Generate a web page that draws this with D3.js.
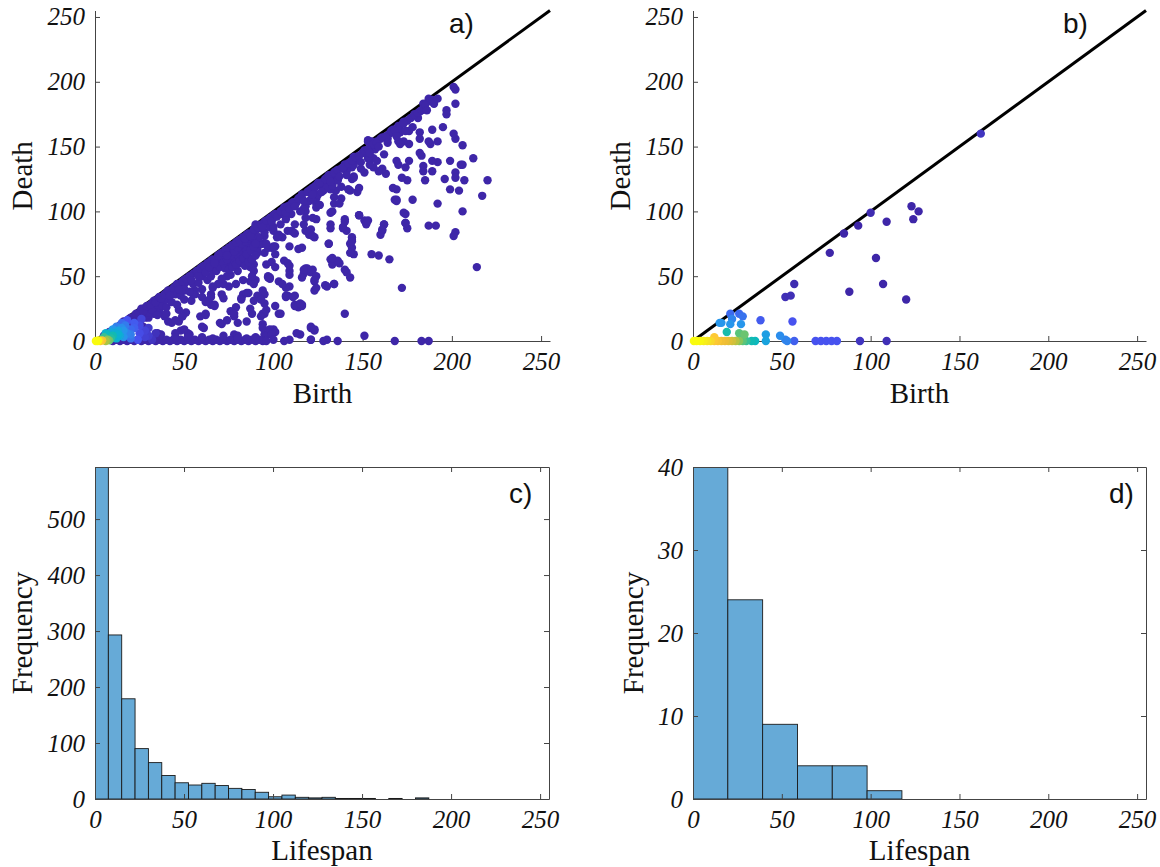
<!DOCTYPE html>
<html>
<head>
<meta charset="utf-8">
<script src="https://cdn.jsdelivr.net/npm/d3@7"></script>
<style>
body{margin:0;background:#fff}
svg{display:block}
.tick text{font-family:"Liberation Serif",serif;font-style:italic;font-size:25px;fill:#111}
.lab{font-family:"Liberation Serif",serif;font-size:29px;fill:#111}
.tag{font-family:"Liberation Sans",Arial,sans-serif;font-size:28px;fill:#111}
</style>
</head>
<body>
<script>
// shared axis setup
var tickVals = [0,50,100,150,200,250];
var axisLimit = 255;
var diagonal = [[0,0],[255,255]];

// panel a: birth/death pairs (dark blue ones)
var pointsA = [
[220,124],[217,112],[214,57],[212,141],[206,151],[207,124],[206,136],[205,136],[206,100],[204,116],[202,130],[202,126],
[202,156],[201,160],[202,183],[202,194],[201,196],[199,139],[199,117],[202,84],[201,81],[196,125],[197,178],[197,175],
[195,165],[192,106],[191,89],[187,89],[192,154],[192,138],[189,131],[189,139],[189,163],[190,185],[187,187],[184,183],
[188,152],[187,154],[185,124],[184,131],[184,135],[183,143],[182,161],[182,156],[181,172],[182,145],[178,109],[176,152],
[176,162],[176,139],[175,87],[174,91],[174,98],[175,124],[173,169],[173,154],[174,134],[172,41],[171,161],[170,154],
[171,152],[169,139],[170,136],[169,117],[169,108],[168,109],[167,163],[166,161],[165,63],[162,90],[161,85],[160,82],
[162,144],[159,66],[163,129],[161,133],[159,131],[156,134],[154,136],[155,67],[151,93],[148,97],[152,90],[155,152],
[157,148],[153,155],[158,154],[156,141],[153,141],[158,139],[151,130],[149,133],[147,115],[151,4],[144,134],[145,142],
[144,125],[145,127],[142,117],[143,116],[140,136],[141,131],[139,133],[144,78],[144,72],[145,67],[143,49],[141,53],
[140,94],[139,87],[141,85],[140,21],[137,60],[136,0],[134,111],[135,116],[134,125],[136,124],[133,100],[134,106],
[132,63],[133,59],[134,44],[130,42],[131,75],[132,87],[131,128],[130,122],[128,118],[130,1],[128,0],[127,120],
[125,122],[123,118],[121,114],[124,110],[124,94],[124,106],[124,103],[123,80],[123,46],[123,39],[121,53],[123,8],
[121,10],[118,56],[119,54],[117,52],[116,49],[121,1],[120,82],[118,85],[116,72],[117,102],[118,100],[115,5],
[116,27],[114,26],[112,28],[112,35],[108,35],[109,58],[109,51],[109,42],[110,85],[111,84],[112,83],[109,1],
[106,0],[107,41],[105,80],[103,82],[100,85],[101,73],[99,72],[101,67],[101,57],[103,21],[101,27],[100,9],
[99,8],[98,49],[97,49],[96,59],[95,5],[96,5],[96,24],[95,21],[94,13],[94,39],[95,36],[94,0],
[95,68],[94,75],[91,71],[95,81],[92,87],[90,90],[89,59],[87,57],[89,54],[87,46],[89,44],[91,35],
[89,31],[85,15],[83,36],[82,33],[79,26],[78,5],[80,4],[84,63],[79,64],[80,66],[77,62],[80,54],
[76,51],[75,42],[76,23],[78,19],[71,36],[72,33],[69,44],[71,13],[67,28],[66,41],[65,36],[63,31],
[62,21],[61,10],[59,19],[56,36],[54,31],[53,5],[52,6],[51,22],[49,19],[47,15],[48,8],[45,6],
[41,15],[39,19],[37,5],[35,6],[36,23],[33,26],
[143,68],[144,80],[143,75],[131,75],[136,62],[133,64],[140,55],[129,43],[134,44],[124,41],[121,11],[123,9],
[122,55],[119,56],[117,55],[124,50],[123,47],[116,28],[112,27],[115,29],[107,35],[107,34],[111,34],[104,21],
[94,21],[95,29],[93,32],[90,47],[88,50],[97,50],[98,48],[103,46],[105,44],[108,60],[109,54],[117,90],
[121,86],[122,81],[109,73],[114,71],[122,95],[132,90],[132,99],[139,88],[140,92],[144,77],[148,97],[153,93],
[162,90],[161,86],[132,117],[138,119],[142,117],[138,110],[137,106],[148,118],[167,118],[169,109],[173,99],[174,91],
[88,21],[93,19],[94,10],[98,9],[101,7],[99,5],[113,6],[93,75],[97,72],[100,73],[99,61],[106,62],
[91,79],[88,83],[107,96],[104,98],[98,93],[173,169],[169,163],[164,156],[153,154],[155,154],[145,126],[172,126],
[62,20],[70,14],[60,11],[78,21],[80,14],[74,16],[65,28],[67,27],[50,9],[43,14],[40,21],[82,32],
[85,37],[87,25],[79,44],[83,47],[86,37],[72,44],[74,50],[71,63],[74,57],[77,59],[84,65],[66,55],
[64,57],[62,54],[60,34],[62,30],[65,34],[47,24],[49,19],[45,16],[56,39],[55,36],[50,39],[50,44],
[40,34],[43,36],[36,29],[33,21],[30,18],[24,15],[27,11],[21,11],[17,10],
[20,18],[25,22],[30,27],[35,32],[40,37],[45,42],[50,47],[55,52],[60,57],[65,62],[70,67],[75,72],
[80,77],[85,82],[90,87],[95,92],[100,97],[105,101],[110,106],[115,111],[120,116],[125,121],[130,126],[135,131],
[140,136],[145,140],[150,145],[155,150],[160,156],[165,160],[170,166],[175,170],[182,177],[188,185],
[5,4],[8,5],[8,7],[10,8],[12,10],[12,7],[15,12],[15,9],[18,15],[18,11],[20,14],[22,19],
[22,15],[25,19],[25,14],[28,24],[28,18],[30,22],[32,29],[32,24],[35,28],[35,20],[38,34],[38,27],
[40,32],[40,26],[42,38],[43,30],[45,36],[46,28],[48,43],[48,35],[50,40],[50,32],[52,46],[53,38],
[55,44],[58,53],[58,45],[60,50],[60,40],[62,56],[63,47],[65,58],[65,50],[66,42],[68,62],[68,54],
[70,64],[70,57],[71,48],[72,67],[73,60],[74,70],[75,65],[75,58],[76,72],[77,68],[78,62],[78,73],
[79,70],[80,75],[80,66],[81,60],[82,78],[82,72],[83,68],[84,74],[85,80],[85,70],[86,65],[87,76],
[88,82],[88,72],[90,85],[90,78],[91,68],[92,88],[92,80],[94,90],[95,84],[96,75],[97,93],[98,88],
[100,95],[100,88],[102,80],[103,98],[104,90],[106,101],[107,94],[108,85],[110,105],[110,98],[112,90],[113,107],
[115,100],[116,110],[118,104],[118,95],[120,115],[120,108],[122,118],[122,110],[124,120],[125,113],[126,105],[128,123],
[128,116],[130,126],[130,118],[132,128],[133,120],[135,130],[136,124],[138,133],[140,135],[141,128],[143,138],[145,136],
[147,141],[150,145],
[72,60],[74,63],[76,66],[78,69],[80,72],[82,75],[84,77],[86,79],[88,80],[73,56],[75,55],[77,57],
[79,59],[81,62],[83,64],[85,67],[87,70],[89,73],[90,75],[84,58],[86,61],[88,63],[90,66],
[14,12],[16,15],[19,17],[23,21],[26,25],[27,23],[29,27],[31,28],[33,31],[34,30],[36,34],[37,33],
[39,36],[41,39],[42,35],[44,41],[46,44],[47,40],[49,46],[51,48],[53,50],[54,47],[57,54],[58,50],
[59,56],[61,58],[62,53],[63,60],[64,57],[66,63],[67,60],[69,66],[71,68],[73,70],[74,66],[77,74],
[79,76],[81,78],[83,80],[84,79],[86,83],[87,81],[89,86],[91,88],[93,90],[94,88],[96,93],[98,95],
[99,92],[101,98],[102,96],[104,100],[106,103],[107,99],[108,104],[109,102],[111,107],[112,104],[114,110],[116,113],
[117,108],[119,115],[121,117],[122,113],[123,119],[126,122],[127,115],[129,125],[131,127],[132,123],[134,130],[136,132],
[137,127],[139,134],[142,137],[144,139],[146,142],[148,143],[149,138],[151,147],[153,148],[154,145],[156,152],[158,153],
[159,150],[161,157],[163,158],[164,153],[166,162],[168,163],[169,158],[171,166],[173,168],[174,162],[177,172],[178,165],
[179,175],[181,176],[183,178],[185,182],[186,178],[189,186],[190,183],[192,187],
[10,0],[12,1],[14,0],[16,1],[18,0],[20,1],[22,0],[24,1],[26,0],[28,1],[30,0],[32,1],
[34,0],[36,1],[38,0],[40,1],[42,0],[44,1],[46,0],[48,1],[50,0],[52,1],[54,0],[56,1],
[58,0],[60,1],[62,0],[64,1],[66,0],[68,1],[70,0],[72,1],[74,0],[76,1],[78,0],[80,1],
[82,0],[84,1],[86,0],[88,1],[90,0],[92,1],[96,0],[100,1],[121,1],[168,0],[183,0],[187,0],
[30,3],[36,4],[45,3],[52,3],[60,3],[66,2],[72,4],[80,2],[85,2],[90,3]
];

// panel a: low points near the origin, with their colour value (0 = dark blue, 1 = yellow)
var lowPointsA = [
[34,6,0.04],[32,1,0.05],[30,10,0.07],[30,4,0.08],[28,3,0.09],[28,8,0.1],[26,17,0.1],[25,12,0.12],[25,6,0.13],
[24,1,0.15],[18,16,0.15],[22,14,0.17],[22,10,0.18],[20,9,0.2],[15,14,0.2],[20,2,0.22],[17,12,0.24],[12,11,0.25],
[20,5,0.25],[18,6,0.26],[15,10,0.28],[16,3,0.3],[16,8,0.3],[10,9,0.3],
[9,7,0.35],[13,8,0.35],[14,4,0.36],[11,6,0.38],[12,2,0.4],[13,5,0.4],[6,6,0.4],
[7,5,0.45],[10,4,0.48],[9,2,0.52],[5,3,0.55],
[8,0.5,0.62],[7,1,0.65],[6,0,0.7],
[4,0.5,0.85],[3,0,0.88],[2,0.5,0.97],[1.5,0,1],[0.5,0,1]
];

// panel b: birth, death, colour value
var pointsB = [
[162,160,0.05],[123,104,0],[127,100,0],[124,94,0],[100,99,0.02],[93,89,0],[85,83,0],[109,92,0],
[77,68,0],[103,64,0],[57,44,0.02],[107,44,0],[88,38,0],[120,32,0],[52,34,0.03],[55,35,0.03],
[56,15,0.15],[38,16,0.17],[21,21,0.2],[26,21,0.2],[28,19,0.22],[22,17,0.26],[15,14,0.3],[16,14,0.3],
[21,13,0.3],[27,13,0.3],[19,7,0.5],[26,6,0.6],[29,5,0.62],[41,5,0.33],[49,4,0.28],[52,1,0.26],
[53,0,0.26],[57,0,0.18],[41,0,0.35],[35,0,0.45],[33,0,0.48],[30,0,0.55],[28,0,0.6],[26,0,0.66],
[24,0,0.72],[22,0,0.76],[20,0,0.78],[18,0,0.8],[16,0,0.82],[14,0,0.85],[12,0,0.87],[12,3,0.88],
[10,0,0.92],[8,0,0.95],[6,0,0.97],[4,0,0.99],[2,0,1],[0.5,0,1],
[69,0,0.15],[72,0,0.15],[75,0,0.15],[78,0,0.15],[81,0,0.15],[94,0,0.05],[109,0,0.03]
];

// panel c histogram
var binWidthC = 7.5;
var countsC = [593,293,179,90,65,42,29,25,28,24,19,17,12,4,7,3,2,3,1,1,1,0,1,0,2,0,0,0,0,0,0,0,0,0];
var yTicksC = [0,100,200,300,400,500];
var yMaxC = 593;

// panel d histogram
var edgesD = [0,19.6,39.2,58.8,78.4,98,117.6];
var countsD = [48,24,9,4,4,1];
var yTicksD = [0,10,20,30,40];
var yMaxD = 40;

// parula-like colour map
var parulaStops = [0,0.15,0.3,0.42,0.5,0.6,0.7,0.8,0.88,0.95,1];
var parulaColors = ["#3e26a8","#4752ef","#2796eb","#05b6cb","#17bbab","#5ac47b","#a9c545","#edbd35","#fec934","#f5e523","#f9fb0e"];
var parula = d3.scaleLinear().domain(parulaStops).range(parulaColors);

var dotR = 4.2;

var svg = d3.select("body").append("svg").attr("width",1160).attr("height",867);

function styleAxis(g){
  g.select(".domain").attr("stroke","#444").attr("stroke-width",1);
  g.selectAll(".tick line").attr("stroke","#444");
}

function scatterPanel(f, dark, colored, tag){
  var x = d3.scaleLinear().domain([0,axisLimit]).range([f.left,f.right]);
  var y = d3.scaleLinear().domain([0,axisLimit]).range([f.bottom,f.top]);
  var g = svg.append("g");

  g.append("g").attr("transform","translate(0,"+f.bottom+")")
    .call(d3.axisBottom(x).tickValues(tickVals).tickSizeInner(-5).tickSizeOuter(0).tickPadding(11))
    .call(styleAxis);
  g.append("g").attr("transform","translate("+f.left+",0)")
    .call(d3.axisLeft(y).tickValues(tickVals).tickSizeInner(-5).tickSizeOuter(0).tickPadding(10))
    .call(styleAxis);

  g.append("path").datum(diagonal)
    .attr("d",d3.line().x(d=>x(d[0])).y(d=>y(d[1])))
    .attr("fill","none").attr("stroke","#000").attr("stroke-width",3);

  g.append("g").selectAll("circle").data(dark).join("circle")
    .attr("cx",d=>x(d[0])).attr("cy",d=>y(d[1])).attr("r",dotR)
    .attr("fill",parula(0));

  var sorted = colored.slice().sort((a,b)=>a[2]-b[2]);
  g.append("g").selectAll("circle").data(sorted).join("circle")
    .attr("cx",d=>x(d[0])).attr("cy",d=>y(d[1])).attr("r",dotR)
    .attr("fill",d=>parula(d[2]));

  g.append("text").attr("class","lab").attr("text-anchor","middle")
    .attr("x",(f.left+f.right)/2).attr("y",f.bottom+62).text("Birth");
  g.append("text").attr("class","lab").attr("text-anchor","middle")
    .attr("transform","translate("+(f.left-63)+","+((f.top+f.bottom)/2)+") rotate(-90)").text("Death");
  g.append("text").attr("class","tag").attr("x",f.tagX).attr("y",33).text(tag);
}

function histPanel(f, edges, counts, yMax, yTicks, tag, labelOff){
  var x = d3.scaleLinear().domain([0,axisLimit]).range([f.left,f.right]);
  var y = d3.scaleLinear().domain([0,yMax]).range([f.bottom,f.top]);
  var g = svg.append("g");
  var clipId = "clip"+tag.charAt(0);
  g.append("clipPath").attr("id",clipId).append("rect")
    .attr("x",f.left).attr("y",f.top).attr("width",f.right-f.left).attr("height",f.bottom-f.top);

  var bins = counts.map((c,i)=>({x0:edges[i],x1:edges[i+1],n:c})).filter(b=>b.n>0);
  g.append("g").attr("clip-path","url(#"+clipId+")").selectAll("rect").data(bins).join("rect")
    .attr("x",d=>x(d.x0)).attr("width",d=>x(d.x1)-x(d.x0))
    .attr("y",d=>y(d.n)).attr("height",d=>y(0)-y(d.n))
    .attr("fill","#66aad7").attr("stroke","#1a1a1a").attr("stroke-width",0.9);

  g.append("g").attr("transform","translate(0,"+f.bottom+")")
    .call(d3.axisBottom(x).tickValues(tickVals).tickSizeInner(-5).tickSizeOuter(0).tickPadding(11))
    .call(styleAxis);
  g.append("g").attr("transform","translate(0,"+f.top+")")
    .call(d3.axisTop(x).tickValues(tickVals).tickSizeInner(-5).tickSizeOuter(0).tickFormat(""))
    .call(styleAxis);
  g.append("g").attr("transform","translate("+f.left+",0)")
    .call(d3.axisLeft(y).tickValues(yTicks).tickSizeInner(-5).tickSizeOuter(0).tickPadding(10))
    .call(styleAxis);
  g.append("g").attr("transform","translate("+f.right+",0)")
    .call(d3.axisRight(y).tickValues(yTicks).tickSizeInner(-5).tickSizeOuter(0).tickFormat(""))
    .call(styleAxis);

  g.append("text").attr("class","lab").attr("text-anchor","middle")
    .attr("x",(f.left+f.right)/2).attr("y",f.bottom+61).text("Lifespan");
  g.append("text").attr("class","lab").attr("text-anchor","middle")
    .attr("transform","translate("+(f.left-labelOff)+","+((f.top+f.bottom)/2)+") rotate(-90)").text("Frequency");
  g.append("text").attr("class","tag").attr("x",f.tagX).attr("y",f.top+36).text(tag);
}

var edgesC = countsC.map((c,i)=>i*binWidthC).concat([countsC.length*binWidthC]);

scatterPanel({left:95,right:550,top:10.5,bottom:341,tagX:449}, pointsA, lowPointsA, "a)");
scatterPanel({left:693,right:1146,top:10.5,bottom:341,tagX:1063}, [], pointsB, "b)");
histPanel({left:95,right:549,top:467,bottom:799,tagX:509}, edgesC, countsC, yMaxC, yTicksC, "c)", 63);
histPanel({left:693,right:1146,top:467,bottom:799,tagX:1109}, edgesD, countsD, yMaxD, yTicksD, "d)", 50);
</script>
</body>
</html>
